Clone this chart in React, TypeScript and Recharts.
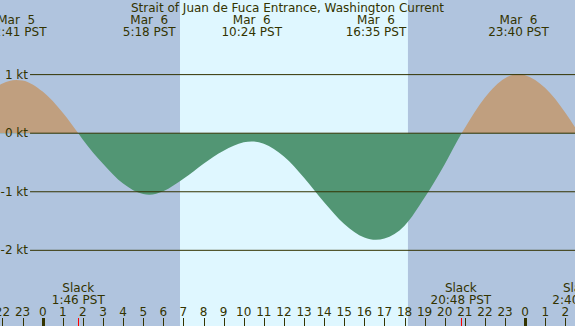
import { AreaChart, Area, XAxis, YAxis, ReferenceArea, ReferenceLine, ReferenceDot } from "recharts";

// hours relative to midnight Mar 6 (PST), current in knots
const TIMES = [-3, -2, -1.32, -1, 0, 1, 1.77, 2, 3, 4, 5, 5.3, 6, 7, 8, 9, 10, 10.4, 11, 12, 13, 14, 15, 16, 16.58, 17, 18, 19, 20, 20.84, 21, 22, 23, 23.67, 24, 25, 26, 26.67, 27];
const CURRENT = [0.58, 0.85, 0.91, 0.9, 0.71, 0.35, 0, -0.11, -0.52, -0.86, -1.04, -1.05, -0.99, -0.78, -0.52, -0.3, -0.155, -0.14, -0.18, -0.4, -0.76, -1.18, -1.55, -1.78, -1.82, -1.8, -1.58, -1.1, -0.53, 0, 0.09, 0.61, 0.94, 1.01, 0.99, 0.77, 0.35, 0, -0.17];

const HOURS = [-2, -1, 0, 1, 2, 3, 4, 5, 6, 7, 8, 9, 10, 11, 12, 13, 14, 15, 16, 17, 18, 19, 20, 21, 22, 23, 24, 25, 26];
const KT_LEVELS = [1, 0, -1, -2];

const EVENTS = [
  { t: -1.32, date: "Mar  5", time: "22:41 PST" },
  { t: 5.3, date: "Mar  6", time: "5:18 PST" },
  { t: 10.4, date: "Mar  6", time: "10:24 PST" },
  { t: 16.58, date: "Mar  6", time: "16:35 PST" },
  { t: 23.67, date: "Mar  6", time: "23:40 PST" },
];
const SLACKS = [
  { t: 1.77, time: "1:46 PST" },
  { t: 20.8, time: "20:48 PST" },
  { t: 26.67, time: "2:40 PST" },
];
const SUNRISE = 6.83;
const SUNSET = 18.17;

const W = 575;
const H = 326;
const X_MIN = -2.124;
const X_MAX = 26.48;
const Y_MIN = -3.292;
const Y_MAX = 2.274;
const LINE_START = -0.63;

const INK = "#333300";
const NIGHT = "#b0c4de";
const DAY = "#dff7ff";
const FLOOD = "#c09f7f";
const EBB = "#529674";
const FONT = "DejaVu Sans, sans-serif";

const data = TIMES.map((t, i) => ({ t, v: CURRENT[i] }));
const zeroOffset = Y_MAX / (Y_MAX - Y_MIN);

const HourTick = (props: any) => {
  const { x, payload } = props;
  const label = ((payload.value % 24) + 24) % 24;
  const px = Math.round(x);
  return (
    <g>
      <text x={x} y={316} textAnchor="middle" fontSize={12} fontFamily={FONT} fill={INK}>
        {label}
      </text>
      {label === 0 ? (
        <rect x={px - 1} y={318} width={3} height={8} fill={INK} />
      ) : (
        <line x1={px + 0.5} x2={px + 0.5} y1={318} y2={326} stroke={INK} />
      )}
    </g>
  );
};

const KtTick = (props: any) => {
  const { y, payload } = props;
  return (
    <text x={28} y={y + 4} textAnchor="end" fontSize={12} fontFamily={FONT} fill={INK}>
      {payload.value} kt
    </text>
  );
};

const eventShape = (date: string, time: string) => (p: any) => (
  <g fontSize={12} fontFamily={FONT} fill={INK} textAnchor="middle">
    <text x={p.cx} y={24} style={{ whiteSpace: "pre" }}>{date}</text>
    <text x={p.cx} y={36}>{time}</text>
  </g>
);

const slackShape = (time: string) => (p: any) => (
  <g fontSize={12} fontFamily={FONT} fill={INK} textAnchor="middle">
    <text x={p.cx} y={292}>Slack</text>
    <text x={p.cx} y={304}>{time}</text>
    <line x1={Math.round(p.cx) + 0.5} x2={Math.round(p.cx) + 0.5} y1={318} y2={326} stroke="#ff0000" />
  </g>
);

export default function App() {
  return (
    <div style={{ position: "absolute", left: 0, top: 0, width: W, height: H, background: NIGHT, overflow: "hidden" }}>
      <style>{`body{margin:0}`}</style>
      <AreaChart width={W} height={H} data={data} margin={{ top: 0, right: 0, bottom: 0, left: 0 }}>
        <defs>
          <linearGradient id="split" gradientUnits="userSpaceOnUse" x1={0} y1={0} x2={0} y2={H}>
            <stop offset={zeroOffset} stopColor={FLOOD} />
            <stop offset={zeroOffset} stopColor={EBB} />
          </linearGradient>
        </defs>
        <ReferenceArea x1={SUNRISE} x2={SUNSET} fill={DAY} fillOpacity={1} stroke="none" />
        {KT_LEVELS.map((k) => (
          <ReferenceLine
            key={k}
            segment={[
              { x: LINE_START, y: k },
              { x: X_MAX, y: k },
            ]}
            stroke={INK}
            strokeWidth={1}
          />
        ))}
        <Area
          dataKey="v"
          type="monotone"
          baseValue={0}
          stroke="none"
          fill="url(#split)"
          fillOpacity={1}
          isAnimationActive={false}
          dot={false}
          activeDot={false}
        />
        <XAxis
          dataKey="t"
          type="number"
          domain={[X_MIN, X_MAX]}
          allowDataOverflow
          ticks={HOURS}
          interval={0}
          mirror
          axisLine={false}
          tickLine={false}
          tick={<HourTick />}
        />
        <YAxis
          type="number"
          domain={[Y_MIN, Y_MAX]}
          allowDataOverflow
          ticks={KT_LEVELS}
          interval={0}
          mirror
          axisLine={false}
          tickLine={false}
          tick={<KtTick />}
        />
        {EVENTS.map((e) => (
          <ReferenceDot key={e.time} x={e.t} y={Y_MAX} r={0} ifOverflow="visible" shape={eventShape(e.date, e.time)} />
        ))}
        {SLACKS.map((s) => (
          <ReferenceDot key={s.time} x={s.t} y={Y_MIN} r={0} ifOverflow="visible" shape={slackShape(s.time)} />
        ))}
      </AreaChart>
      <div
        style={{
          position: "absolute",
          top: 1,
          left: 0,
          width: W,
          textAlign: "center",
          fontFamily: FONT,
          fontSize: 12,
          lineHeight: "14px",
          color: INK,
          pointerEvents: "none",
        }}
      >
        Strait of Juan de Fuca Entrance, Washington Current
      </div>
    </div>
  );
}
